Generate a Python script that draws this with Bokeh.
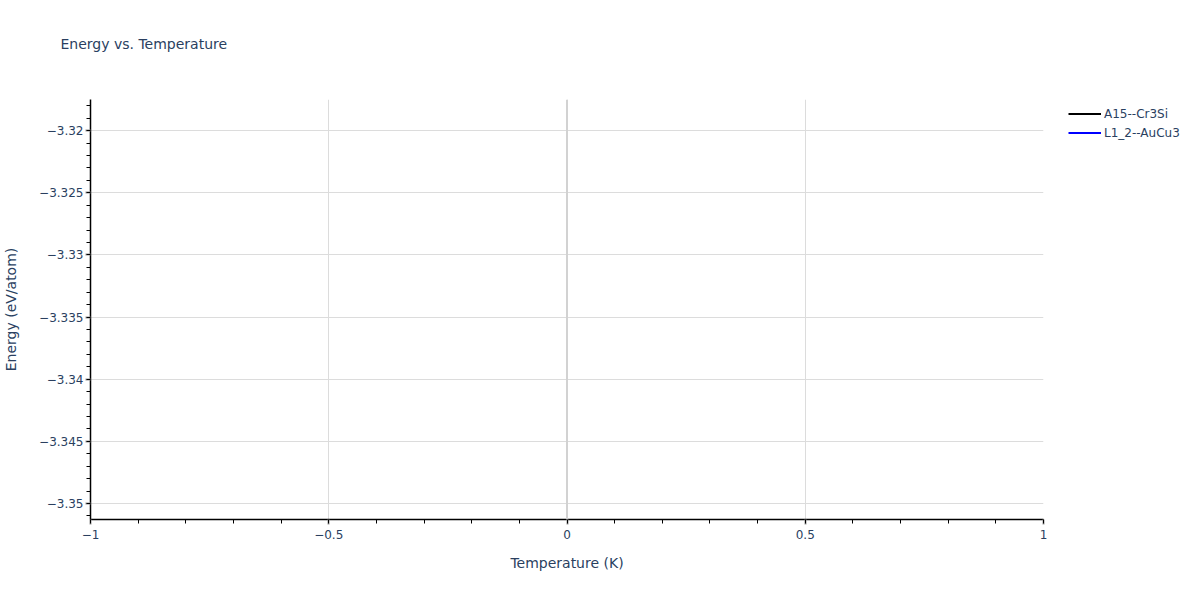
from bokeh.plotting import figure
from bokeh.models import Legend, LegendItem, Span, Range1d, FixedTicker, ColumnDataSource, Title
from bokeh.embed import file_html
from bokeh.resources import INLINE

# Data (single-point series: lines are invisible, only legend entries show)
series_names = ["A15--Cr3Si", "L1_2--AuCu3"]
series_colors = ["#000000", "#0000ff"]
temperature = [[0.0], [0.0]]
energy = [[-3.3190], [-3.3498]]

x_ticks = [-1, -0.5, 0, 0.5, 1]
y_ticks = [-3.35, -3.345, -3.34, -3.335, -3.33, -3.325, -3.32]
x_range = (-1, 1)
y_range = (-3.35129, -3.3175)
title_text = "Energy vs. Temperature"

FONT = "DejaVu Sans"
TXT = "#2a3f5f"

p = figure(frame_width=953, frame_height=420, output_backend="svg", toolbar_location=None,
           x_range=Range1d(*x_range), y_range=Range1d(*y_range), title_location=None,
           min_border_left=82, min_border_right=149, min_border_top=99, min_border_bottom=72)
p.outline_line_color = None
p.background_fill_color = "white"
p.border_fill_color = "white"

# spacer title (nearest the frame) then the real title above it
spacer = Title(text=" ", text_font=FONT, text_font_size="14px", standoff=30)
p.add_layout(spacer, "above")
title = Title(text=title_text, text_font=FONT, text_font_size="14px", text_font_style="normal",
              text_color=TXT, standoff=0, offset=-30, align="left")
p.add_layout(title, "above")

renderers = []
for name, col, xs, ys in zip(series_names, series_colors, temperature, energy):
    src = ColumnDataSource(dict(x=xs, y=ys))
    r = p.line("x", "y", source=src, line_color=col, line_width=2)
    renderers.append((name, r))

x_minor = [round(-1 + 0.1 * i, 1) for i in range(21)]
y_minor = [round(-3.351 + 0.001 * i, 3) for i in range(34)]

for ax, ticks, minor in ((p.xaxis[0], x_ticks, x_minor), (p.yaxis[0], y_ticks, y_minor)):
    ax.ticker = FixedTicker(ticks=ticks, minor_ticks=minor)
    ax.axis_line_color = "black"
    ax.axis_line_width = 1.5
    ax.major_tick_line_color = "#999999"
    ax.major_tick_line_width = 2
    ax.major_tick_out = 5
    ax.major_tick_in = 0
    ax.minor_tick_line_color = "black"
    ax.minor_tick_out = 4
    ax.minor_tick_in = 0
    ax.major_label_text_font = FONT
    ax.major_label_text_font_size = "12px"
    ax.major_label_text_color = TXT
    ax.axis_label_text_font = FONT
    ax.axis_label_text_font_size = "14px"
    ax.axis_label_text_font_style = "normal"
    ax.axis_label_text_color = TXT

p.xaxis[0].axis_label = "Temperature (K)"
p.yaxis[0].axis_label = "Energy (eV/atom)"
p.xaxis[0].major_label_standoff = 5
p.yaxis[0].major_label_standoff = 2
p.xaxis[0].axis_label_standoff = 13
p.yaxis[0].axis_label_standoff = 17

p.xgrid.grid_line_color = "#dcdcdc"
p.ygrid.grid_line_color = "#dcdcdc"
p.xgrid.grid_line_width = 1
p.ygrid.grid_line_width = 1

zero = Span(location=0, dimension="height", line_color="#d2d2d2", line_width=2)
p.add_layout(zero)

legend = Legend(items=[LegendItem(label=n, renderers=[r]) for n, r in renderers],
                location=(25, 377), orientation="vertical")
legend.label_text_font = FONT
legend.label_text_font_size = "12px"
legend.label_text_color = TXT
legend.glyph_width = 33
legend.glyph_height = 19
legend.label_height = 19
legend.spacing = 0
legend.padding = 2
legend.margin = 0
legend.label_standoff = 3
legend.border_line_color = None
legend.background_fill_alpha = 0
p.add_layout(legend, "right")

open("out.html", "w").write(file_html(p, INLINE))
